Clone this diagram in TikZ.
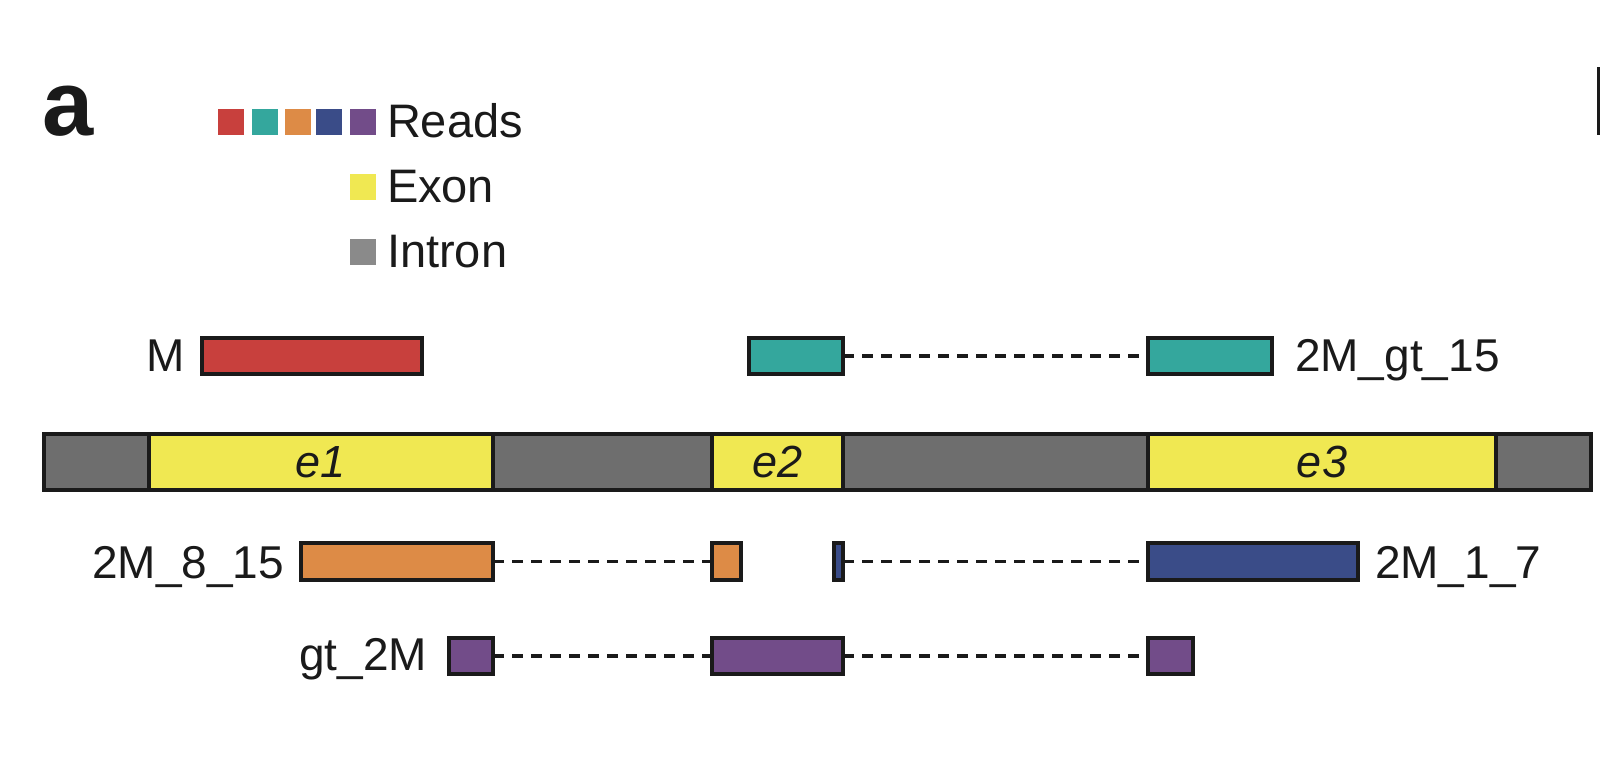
\documentclass[tikz,border=0pt]{standalone}
\usepackage{fontspec}
\setmainfont{Liberation Sans}
\definecolor{lk}{HTML}{1A1A1A}
\definecolor{cred}{HTML}{C8403D}
\definecolor{cteal}{HTML}{34A79D}
\definecolor{corange}{HTML}{DD8B46}
\definecolor{cblue}{HTML}{3A4C88}
\definecolor{cpurple}{HTML}{724C89}
\definecolor{cyellow}{HTML}{F0E852}
\definecolor{cgray}{HTML}{6E6E6E}
\definecolor{clgray}{HTML}{8A8A8A}
\begin{document}
\begin{tikzpicture}[x=1pt,y=-1pt,
  rb/.style={draw=lk,line width=3.5pt,inner sep=0pt,outer sep=0pt,rectangle},
  leg/.style={inner sep=0pt,outer sep=0pt,minimum width=26pt,minimum height=26pt},
  lbl/.style={inner sep=0pt,outer sep=0pt,text=lk,font=\fontsize{46}{50}\selectfont},
  elbl/.style={inner sep=0pt,outer sep=0pt,text=lk,font=\fontsize{45}{50}\selectfont\itshape},
  dashline/.style={draw=lk,line width=3.5pt,dash pattern=on 11pt off 8pt}]
\useasboundingbox (0,0) rectangle (1600,774);
\fill[white] (0,0) rectangle (1600,774);
% panel letter
\node[inner sep=0pt,anchor=base west,text=lk,font=\fontsize{92}{92}\selectfont\bfseries] (pa) at (42,135) {a};
\fill[lk] (1597,67) rectangle (1600,135);
% legend
\node[leg,fill=cred] (l1) at (231,122) {};
\node[leg,fill=cteal] (l2) at (264.5,122) {};
\node[leg,fill=corange] (l3) at (298,122) {};
\node[leg,fill=cblue] (l4) at (329,122) {};
\node[leg,fill=cpurple] (l5) at (362.5,122) {};
\node[leg,fill=cyellow] (l6) at (362.5,187) {};
\node[leg,fill=clgray] (l7) at (362.5,252) {};
\node[lbl,anchor=base west,font=\fontsize{47}{50}\selectfont] (tr) at (387,137) {Reads};
\node[lbl,anchor=base west,font=\fontsize{47}{50}\selectfont] (te) at (387,202) {Exon};
\node[lbl,anchor=base west,font=\fontsize{47}{50}\selectfont] (ti) at (387,267) {Intron};
% gene
\node[rb,fill=cgray,minimum width=1547pt,minimum height=56pt] (gene) at (817.5,462) {};
\node[rb,fill=cyellow,minimum width=344pt,minimum height=56pt] (e1) at (321,462) {};
\node[rb,fill=cyellow,minimum width=131pt,minimum height=56pt] (e2) at (777.5,462) {};
\node[rb,fill=cyellow,minimum width=348pt,minimum height=56pt] (e3) at (1322,462) {};
\node[elbl,anchor=base] (e1t) at (321,477) {e1};
\node[elbl,anchor=base] (e2t) at (777.5,477) {e2};
\node[elbl,anchor=base] (e3t) at (1322,477) {e3};
% row 1
\node[rb,fill=cred,minimum width=220pt,minimum height=36pt] (m) at (312,356) {};
\node[rb,fill=cteal,minimum width=94pt,minimum height=36pt] (t1) at (796,356) {};
\node[rb,fill=cteal,minimum width=124pt,minimum height=36pt] (t2) at (1210,356) {};
\draw[dashline] (t1.east) -- (t2.west);
\node[lbl,anchor=base east] (mt) at (185,371) {M};
\node[lbl,anchor=base west] (t2t) at (1295,371) {2M\_gt\_15};
% row 3
\node[rb,fill=corange,minimum width=192pt,minimum height=37pt] (o1) at (397,561.5) {};
\node[rb,fill=corange,minimum width=29pt,minimum height=37pt] (o2) at (726.5,561.5) {};
\node[rb,fill=cblue,minimum width=9pt,minimum height=37pt] (b1) at (838.5,561.5) {};
\node[rb,fill=cblue,minimum width=210pt,minimum height=37pt] (b2) at (1253,561.5) {};
\draw[dashline] (o1.east) -- (o2.west);
\draw[dashline] (b1.east) -- (b2.west);
\node[lbl,anchor=base east] (o1t) at (284,578) {2M\_8\_15};
\node[lbl,anchor=base west] (b2t) at (1375,578) {2M\_1\_7};
% row 4
\node[rb,fill=cpurple,minimum width=44pt,minimum height=36pt] (p1) at (471,656) {};
\node[rb,fill=cpurple,minimum width=131pt,minimum height=36pt] (p2) at (777.5,656) {};
\node[rb,fill=cpurple,minimum width=45pt,minimum height=36pt] (p3) at (1170.5,656) {};
\draw[dashline] (p1.east) -- (p2.west);
\draw[dashline] (p2.east) -- (p3.west);
\node[lbl,anchor=base east] (p1t) at (427,670) {gt\_2M};
\end{tikzpicture}
\end{document}
